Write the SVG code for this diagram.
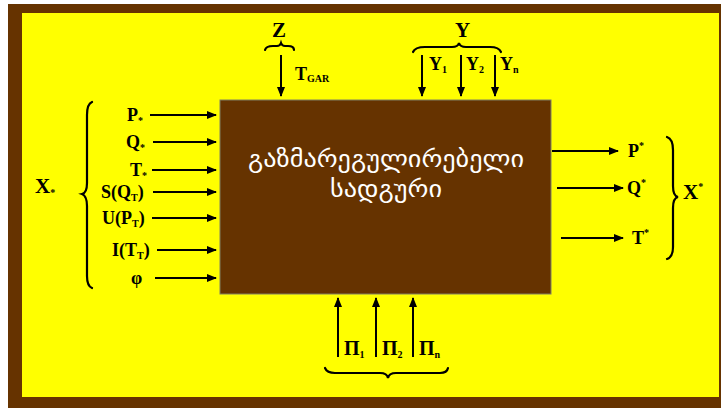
<svg xmlns="http://www.w3.org/2000/svg" width="723" height="408" viewBox="0 0 723 408">
<defs>
<marker id="ah" markerWidth="10" markerHeight="8" refX="9" refY="4" orient="auto" markerUnits="userSpaceOnUse">
<path d="M0,0 L10,4 L0,8 Z" fill="#000"/>
</marker>
<style>
.ar{stroke:#000;stroke-width:2;fill:none;marker-end:url(#ah)}
.br{stroke:#000;stroke-width:2.2;fill:none;stroke-linecap:round}
.lb{font-family:"Liberation Serif",serif;font-weight:bold;fill:#000;font-size:18px}
.big{font-size:21px}
.pi{font-size:20px}
.sub{font-size:10px}
.geo{font-family:"DejaVu Sans","Noto Sans",sans-serif;fill:#fff;font-size:24px;text-anchor:middle}
</style>
</defs>
<rect x="8" y="4" width="713" height="404" fill="#663300"/>
<rect x="22" y="13" width="697" height="384" fill="#FFFF00"/>

<g id="station">
<rect x="220" y="100" width="331" height="194" fill="#663300" stroke="#808060" stroke-width="1"/>
<text class="geo" x="386" y="167" textLength="276" lengthAdjust="spacingAndGlyphs">გაზმარეგულირებელი</text>
<text class="geo" x="386" y="197" textLength="112" lengthAdjust="spacingAndGlyphs">სადგური</text>
</g>

<g id="connectors">
<line class="ar" x1="150" y1="115" x2="216" y2="115"/>
<line class="ar" x1="153" y1="142" x2="216" y2="142"/>
<line class="ar" x1="152" y1="170" x2="216" y2="170"/>
<line class="ar" x1="153" y1="192" x2="216" y2="192"/>
<line class="ar" x1="152" y1="218" x2="216" y2="218"/>
<line class="ar" x1="157" y1="250" x2="216" y2="250"/>
<line class="ar" x1="155" y1="278" x2="216" y2="278"/>
<line class="ar" x1="552" y1="151" x2="618" y2="151"/>
<line class="ar" x1="557" y1="188" x2="623" y2="188"/>
<line class="ar" x1="561" y1="238" x2="623" y2="238"/>
<line class="ar" x1="281" y1="55" x2="281" y2="96"/>
<line class="ar" x1="422" y1="55" x2="422" y2="96"/>
<line class="ar" x1="461" y1="55" x2="461" y2="96"/>
<line class="ar" x1="495" y1="55" x2="495" y2="96"/>
<line class="ar" x1="338" y1="357" x2="338" y2="298"/>
<line class="ar" x1="376" y1="357" x2="376" y2="298"/>
<line class="ar" x1="413" y1="357" x2="413" y2="298"/>
</g>

<g id="inputs-x">
<path class="br" d="M92,102 Q87,104 87,115 L87,183 Q87,193 82,194 Q87,196 87,206 L87,276 Q87,286 92,288"/>
<text class="lb big" x="35" y="193">X<tspan class="sub" dy="3">*</tspan></text>
<text class="lb" x="127" y="121">P<tspan class="sub" dy="3">*</tspan></text>
<text class="lb" x="126" y="148">Q<tspan class="sub" dy="3">*</tspan></text>
<text class="lb" x="130" y="176">T<tspan class="sub" dy="3">*</tspan></text>
<text class="lb" x="101" y="198">S(Q<tspan class="sub" dy="3">T</tspan><tspan dy="-3">)</tspan></text>
<text class="lb" x="102" y="224">U(P<tspan class="sub" dy="3">T</tspan><tspan dy="-3">)</tspan></text>
<text class="lb" x="112" y="256">I(T<tspan class="sub" dy="3">T</tspan><tspan dy="-3">)</tspan></text>
<text class="lb" x="131" y="284">φ</text>
</g>

<g id="outputs-x">
<path class="br" d="M667,137 Q673,139 673,150 L673,186 Q673,196 678,197 Q673,198 673,208 L673,247 Q673,257 667,259"/>
<text class="lb big" x="683" y="199">X<tspan class="sub" dy="-9">*</tspan></text>
<text class="lb" x="628" y="157">P<tspan class="sub" dy="-8">*</tspan></text>
<text class="lb" x="627" y="194">Q<tspan class="sub" dy="-8">*</tspan></text>
<text class="lb" x="632" y="244">T<tspan class="sub" dy="-8">*</tspan></text>
</g>

<g id="z">
<text class="lb big" x="272" y="37">Z</text>
<path class="br" d="M265,50 Q266,46 273,46 L277,46 Q280,46 281,43 Q282,46 285,46 L288,46 Q294,46 294,50"/>
<text class="lb" x="295" y="80">T<tspan class="sub" dy="2">GAR</tspan></text>
</g>

<g id="y">
<text class="lb big" x="455" y="37">Y</text>
<path class="br" d="M413,52 Q415,47 425,47 L452,47 Q458,47 459,43 Q460,47 466,47 L490,47 Q499,47 501,52"/>
<text class="lb" x="429" y="70">Y<tspan class="sub" dy="3">1</tspan></text>
<text class="lb" x="466" y="70">Y<tspan class="sub" dy="3">2</tspan></text>
<text class="lb" x="500" y="70">Y<tspan class="sub" dy="3">n</tspan></text>
</g>

<g id="pi">
<text class="lb pi" x="344" y="355">Π<tspan class="sub" dy="3">1</tspan></text>
<text class="lb pi" x="382" y="355">Π<tspan class="sub" dy="3">2</tspan></text>
<text class="lb pi" x="419" y="355">Π<tspan class="sub" dy="3">n</tspan></text>
<path class="br" d="M325,368 Q327,373 335,373 L380,373 Q387,373 388,378 Q389,373 396,373 L440,373 Q447,373 448,368"/>
</g>
</svg>
